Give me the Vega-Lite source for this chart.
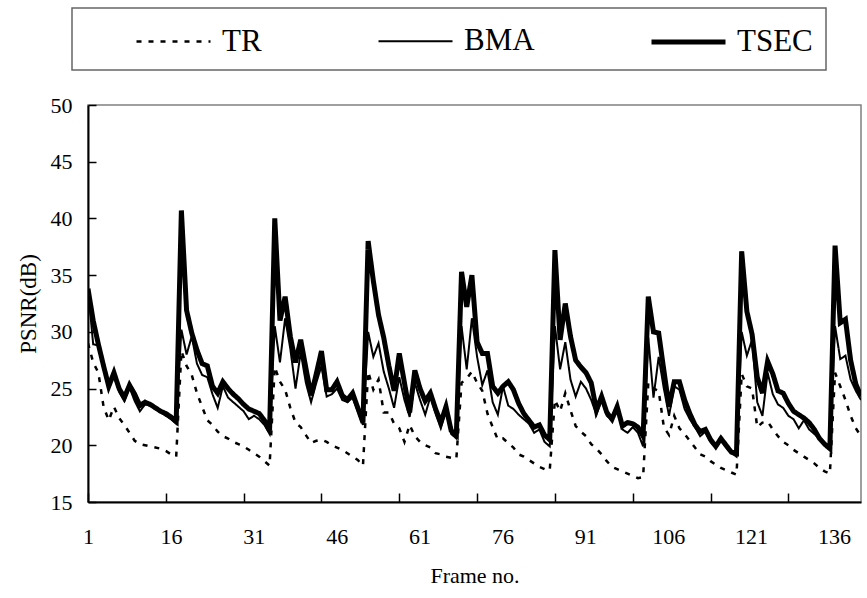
{
  "$schema": "https://vega.github.io/schema/vega-lite/v6.json",
  "width": 773,
  "height": 397,
  "autosize": {"type": "none"},
  "padding": {"left": 88, "top": 105, "right": 6, "bottom": 96},
  "background": "white",
  "config": {
    "font": "Liberation Serif",
    "view": {"stroke": "#808080", "strokeWidth": 1.5},
    "axis": {
      "grid": false,
      "domainColor": "black",
      "tickColor": "black",
      "labelColor": "black",
      "titleColor": "black",
      "labelFont": "Liberation Serif",
      "titleFont": "Liberation Serif",
      "labelFontSize": 22,
      "titleFontSize": 22,
      "titleFontWeight": "normal",
      "domainWidth": 2,
      "tickWidth": 1.5,
      "labelFlush": false
    },
    "legend": {
      "labelFont": "Liberation Serif",
      "labelFontSize": 31,
      "labelColor": "black",
      "strokeColor": "#666666",
      "strokeWidth": 1.5
    }
  },
  "datasets": {
    "psnr": [
      {"frame":1,"TSEC":33.8,"BMA":33.8,"TR":29.0},{"frame":2,"TSEC":31.0,"BMA":28.9,"TR":27.3},{"frame":3,"TSEC":28.9,"BMA":28.8,"TR":26.4},{"frame":4,"TSEC":27.0,"BMA":26.8,"TR":23.4},{"frame":5,"TSEC":25.2,"BMA":25.0,"TR":22.2},{"frame":6,"TSEC":26.4,"BMA":26.2,"TR":23.4},{"frame":7,"TSEC":25.0,"BMA":24.7,"TR":22.4},{"frame":8,"TSEC":24.2,"BMA":23.9,"TR":21.8},{"frame":9,"TSEC":25.3,"BMA":25.1,"TR":21.1},{"frame":10,"TSEC":24.5,"BMA":23.9,"TR":20.4},{"frame":11,"TSEC":23.5,"BMA":23.0,"TR":20.1},{"frame":12,"TSEC":23.8,"BMA":23.6,"TR":20.0},{"frame":13,"TSEC":23.6,"BMA":23.5,"TR":19.9},{"frame":14,"TSEC":23.3,"BMA":23.2,"TR":19.8},{"frame":15,"TSEC":23.0,"BMA":22.9,"TR":19.7},{"frame":16,"TSEC":22.8,"BMA":22.6,"TR":19.5},{"frame":17,"TSEC":22.5,"BMA":22.3,"TR":19.2},{"frame":18,"TSEC":22.1,"BMA":21.9,"TR":19.0},
      {"frame":19,"TSEC":40.7,"BMA":30.2,"TR":28.3},{"frame":20,"TSEC":31.9,"BMA":28.0,"TR":27.0},{"frame":21,"TSEC":29.9,"BMA":29.6,"TR":26.2},{"frame":22,"TSEC":28.4,"BMA":27.2,"TR":24.6},{"frame":23,"TSEC":27.2,"BMA":26.2,"TR":23.4},{"frame":24,"TSEC":27.0,"BMA":26.0,"TR":22.2},{"frame":25,"TSEC":25.2,"BMA":24.5,"TR":21.8},{"frame":26,"TSEC":24.6,"BMA":23.3,"TR":21.2},{"frame":27,"TSEC":25.6,"BMA":25.2,"TR":20.8},{"frame":28,"TSEC":25.0,"BMA":24.2,"TR":20.6},{"frame":29,"TSEC":24.5,"BMA":23.8,"TR":20.3},{"frame":30,"TSEC":24.1,"BMA":23.4,"TR":20.1},{"frame":31,"TSEC":23.6,"BMA":23.0,"TR":19.9},{"frame":32,"TSEC":23.2,"BMA":22.3,"TR":19.6},{"frame":33,"TSEC":23.0,"BMA":22.6,"TR":19.3},{"frame":34,"TSEC":22.8,"BMA":22.3,"TR":19.0},{"frame":35,"TSEC":22.2,"BMA":21.8,"TR":18.6},{"frame":36,"TSEC":21.3,"BMA":21.0,"TR":18.2},
      {"frame":37,"TSEC":40.0,"BMA":30.5,"TR":26.9},{"frame":38,"TSEC":31.0,"BMA":27.3,"TR":25.6},{"frame":39,"TSEC":33.1,"BMA":31.2,"TR":24.9},{"frame":40,"TSEC":29.6,"BMA":28.5,"TR":23.3},{"frame":41,"TSEC":27.3,"BMA":25.0,"TR":22.0},{"frame":42,"TSEC":29.3,"BMA":28.2,"TR":21.6},{"frame":43,"TSEC":26.8,"BMA":25.5,"TR":20.9},{"frame":44,"TSEC":24.4,"BMA":23.8,"TR":20.2},{"frame":45,"TSEC":26.3,"BMA":25.5,"TR":20.4},{"frame":46,"TSEC":28.3,"BMA":27.0,"TR":20.5},{"frame":47,"TSEC":24.9,"BMA":24.3,"TR":20.3},{"frame":48,"TSEC":24.9,"BMA":24.5,"TR":20.0},{"frame":49,"TSEC":25.6,"BMA":25.0,"TR":19.8},{"frame":50,"TSEC":24.4,"BMA":24.0,"TR":19.6},{"frame":51,"TSEC":24.0,"BMA":23.8,"TR":19.3},{"frame":52,"TSEC":24.6,"BMA":24.2,"TR":19.0},{"frame":53,"TSEC":23.3,"BMA":23.0,"TR":18.7},{"frame":54,"TSEC":22.0,"BMA":21.8,"TR":18.2},
      {"frame":55,"TSEC":38.0,"BMA":30.0,"TR":26.5},{"frame":56,"TSEC":34.5,"BMA":27.8,"TR":24.9},{"frame":57,"TSEC":31.5,"BMA":29.0,"TR":25.8},{"frame":58,"TSEC":29.5,"BMA":26.5,"TR":22.9},{"frame":59,"TSEC":27.0,"BMA":25.0,"TR":22.9},{"frame":60,"TSEC":24.8,"BMA":23.3,"TR":21.9},{"frame":61,"TSEC":28.1,"BMA":26.0,"TR":21.5},{"frame":62,"TSEC":25.5,"BMA":24.0,"TR":20.3},{"frame":63,"TSEC":22.9,"BMA":22.5,"TR":21.8},{"frame":64,"TSEC":26.6,"BMA":25.5,"TR":20.8},{"frame":65,"TSEC":25.0,"BMA":24.0,"TR":20.3},{"frame":66,"TSEC":23.9,"BMA":22.7,"TR":20.0},{"frame":67,"TSEC":24.6,"BMA":24.3,"TR":19.8},{"frame":68,"TSEC":23.2,"BMA":22.8,"TR":19.3},{"frame":69,"TSEC":22.0,"BMA":21.5,"TR":19.2},{"frame":70,"TSEC":23.4,"BMA":23.0,"TR":19.0},{"frame":71,"TSEC":21.3,"BMA":21.0,"TR":18.9},{"frame":72,"TSEC":20.9,"BMA":20.6,"TR":18.8},
      {"frame":73,"TSEC":35.3,"BMA":30.5,"TR":25.5},{"frame":74,"TSEC":32.2,"BMA":26.7,"TR":25.9},{"frame":75,"TSEC":35.0,"BMA":31.2,"TR":26.5},{"frame":76,"TSEC":29.1,"BMA":27.8,"TR":25.5},{"frame":77,"TSEC":28.1,"BMA":25.3,"TR":24.8},{"frame":78,"TSEC":28.1,"BMA":26.6,"TR":22.8},{"frame":79,"TSEC":25.2,"BMA":23.8,"TR":21.6},{"frame":80,"TSEC":24.6,"BMA":22.7,"TR":20.5},{"frame":81,"TSEC":25.2,"BMA":25.2,"TR":20.6},{"frame":82,"TSEC":25.6,"BMA":23.5,"TR":20.2},{"frame":83,"TSEC":24.9,"BMA":23.2,"TR":19.8},{"frame":84,"TSEC":23.7,"BMA":22.7,"TR":19.2},{"frame":85,"TSEC":22.8,"BMA":22.3,"TR":19.0},{"frame":86,"TSEC":22.2,"BMA":21.9,"TR":18.7},{"frame":87,"TSEC":21.6,"BMA":21.1,"TR":18.4},{"frame":88,"TSEC":21.8,"BMA":21.4,"TR":18.1},{"frame":89,"TSEC":20.9,"BMA":20.3,"TR":17.9},{"frame":90,"TSEC":20.5,"BMA":19.9,"TR":17.8},
      {"frame":91,"TSEC":37.2,"BMA":30.5,"TR":24.0},{"frame":92,"TSEC":29.3,"BMA":26.7,"TR":23.0},{"frame":93,"TSEC":32.5,"BMA":29.1,"TR":24.6},{"frame":94,"TSEC":29.6,"BMA":25.8,"TR":23.1},{"frame":95,"TSEC":27.5,"BMA":24.3,"TR":21.7},{"frame":96,"TSEC":26.9,"BMA":25.6,"TR":21.2},{"frame":97,"TSEC":26.4,"BMA":25.0,"TR":20.8},{"frame":98,"TSEC":25.5,"BMA":24.0,"TR":20.1},{"frame":99,"TSEC":23.1,"BMA":22.7,"TR":19.7},{"frame":100,"TSEC":24.3,"BMA":24.0,"TR":19.2},{"frame":101,"TSEC":22.9,"BMA":22.6,"TR":18.6},{"frame":102,"TSEC":22.3,"BMA":22.2,"TR":18.1},{"frame":103,"TSEC":23.4,"BMA":23.4,"TR":17.9},{"frame":104,"TSEC":21.7,"BMA":21.4,"TR":17.7},{"frame":105,"TSEC":22.0,"BMA":21.1,"TR":17.5},{"frame":106,"TSEC":21.9,"BMA":21.6,"TR":17.3},{"frame":107,"TSEC":21.6,"BMA":21.1,"TR":17.1},{"frame":108,"TSEC":20.8,"BMA":19.9,"TR":17.2},
      {"frame":109,"TSEC":33.1,"BMA":29.5,"TR":25.5},{"frame":110,"TSEC":30.0,"BMA":24.2,"TR":25.0},{"frame":111,"TSEC":29.9,"BMA":27.8,"TR":24.8},{"frame":112,"TSEC":26.6,"BMA":25.0,"TR":21.6},{"frame":113,"TSEC":23.4,"BMA":22.6,"TR":20.9},{"frame":114,"TSEC":25.6,"BMA":25.2,"TR":22.6},{"frame":115,"TSEC":25.6,"BMA":24.9,"TR":21.5},{"frame":116,"TSEC":24.0,"BMA":23.2,"TR":21.0},{"frame":117,"TSEC":22.8,"BMA":22.3,"TR":20.4},{"frame":118,"TSEC":21.8,"BMA":21.6,"TR":19.8},{"frame":119,"TSEC":21.2,"BMA":20.8,"TR":19.2},{"frame":120,"TSEC":21.4,"BMA":21.2,"TR":19.0},{"frame":121,"TSEC":20.5,"BMA":20.3,"TR":18.6},{"frame":122,"TSEC":19.9,"BMA":19.8,"TR":18.3},{"frame":123,"TSEC":20.6,"BMA":20.4,"TR":18.0},{"frame":124,"TSEC":20.0,"BMA":19.8,"TR":17.8},{"frame":125,"TSEC":19.4,"BMA":19.3,"TR":17.6},{"frame":126,"TSEC":19.3,"BMA":19.0,"TR":17.4},
      {"frame":127,"TSEC":37.1,"BMA":30.0,"TR":26.3},{"frame":128,"TSEC":31.8,"BMA":27.9,"TR":25.2},{"frame":129,"TSEC":29.8,"BMA":29.3,"TR":25.0},{"frame":130,"TSEC":26.0,"BMA":23.8,"TR":21.6},{"frame":131,"TSEC":24.6,"BMA":22.6,"TR":22.0},{"frame":132,"TSEC":27.4,"BMA":26.4,"TR":22.1},{"frame":133,"TSEC":26.3,"BMA":24.5,"TR":21.4},{"frame":134,"TSEC":24.8,"BMA":23.6,"TR":20.8},{"frame":135,"TSEC":24.6,"BMA":23.3,"TR":20.3},{"frame":136,"TSEC":23.7,"BMA":22.6,"TR":20.0},{"frame":137,"TSEC":23.0,"BMA":22.3,"TR":19.6},{"frame":138,"TSEC":22.7,"BMA":21.5,"TR":19.3},{"frame":139,"TSEC":22.4,"BMA":22.2,"TR":19.0},{"frame":140,"TSEC":22.0,"BMA":21.4,"TR":18.7},{"frame":141,"TSEC":21.4,"BMA":21.0,"TR":18.4},{"frame":142,"TSEC":20.6,"BMA":20.6,"TR":18.0},{"frame":143,"TSEC":20.1,"BMA":20.1,"TR":17.7},{"frame":144,"TSEC":19.7,"BMA":19.6,"TR":17.5},
      {"frame":145,"TSEC":37.6,"BMA":30.5,"TR":26.4},{"frame":146,"TSEC":30.8,"BMA":27.6,"TR":25.2},{"frame":147,"TSEC":31.1,"BMA":27.9,"TR":24.0},{"frame":148,"TSEC":27.5,"BMA":25.8,"TR":22.6},{"frame":149,"TSEC":25.4,"BMA":24.8,"TR":21.5},{"frame":150,"TSEC":24.3,"BMA":24.0,"TR":20.8}
    ]
  },
  "data": {"name": "psnr"},
  "transform": [{"fold": ["TR", "BMA", "TSEC"], "as": ["method", "psnr"]}],
  "resolve": {"scale": {"x": "independent"}},
  "layer": [
    {
      "mark": {"type": "line", "color": "black", "clip": true},
      "encoding": {
        "x": {
          "field": "frame", "type": "quantitative",
          "scale": {"domain": [1, 150], "nice": false, "zero": false},
          "axis": {"values": [1, 16, 31, 46, 61, 76, 91, 106, 121, 136], "labels": false, "tickSize": -9, "title": null}
        },
        "y": {
          "field": "psnr", "type": "quantitative",
          "scale": {"domain": [15, 50], "nice": false, "zero": false},
          "axis": {"values": [15, 20, 25, 30, 35, 40, 45, 50], "tickSize": -8, "labelPadding": 24, "labelFont": "Liberation Serif", "titleFont": "Liberation Serif", "title": "PSNR(dB)", "titlePadding": 10, "titleFontSize": 23}
        },
        "strokeDash": {
          "field": "method", "type": "nominal",
          "scale": {"domain": ["TR", "BMA", "TSEC"], "range": [[5, 7], [1, 0], [1, 0]]},
          "legend": {"title": null, "orient": "none", "legendX": -16, "legendY": -97, "direction": "horizontal", "columns": 3, "padding": 13, "symbolType": "M-2,0H2", "symbolSize": 1369, "symbolOffset": 67.5, "labelOffset": 27.5, "columnPadding": 65, "symbolStrokeColor": "black", "labelFont": "Liberation Serif", "labelFontSize": 31}
        },
        "strokeWidth": {
          "field": "method", "type": "nominal",
          "scale": {"type": "ordinal", "domain": ["TR", "BMA", "TSEC"], "range": [2.5, 2, 5]},
          "legend": {"title": null, "orient": "none", "legendX": -16, "legendY": -97, "direction": "horizontal", "columns": 3, "padding": 13, "symbolType": "M-2,0H2", "symbolSize": 1369, "symbolOffset": 67.5, "labelOffset": 27.5, "columnPadding": 65, "symbolStrokeColor": "black", "labelFont": "Liberation Serif", "labelFontSize": 31}
        }
      }
    },
    {
      "transform": [{"filter": "datum.method == 'TSEC' && datum.frame <= 140"}],
      "mark": {"type": "point", "opacity": 0},
      "encoding": {
        "x": {
          "field": "frame", "type": "quantitative",
          "scale": {"domain": [1, 140.9], "nice": false, "zero": false},
          "axis": {"orient": "bottom", "values": [1, 16, 31, 46, 61, 76, 91, 106, 121, 136], "ticks": false, "domain": false, "labelPadding": 24, "labelFont": "Liberation Serif", "titleFont": "Liberation Serif", "title": "Frame no.", "titlePadding": 18}
        },
        "y": {"field": "psnr", "type": "quantitative"}
      }
    }
  ]
}
